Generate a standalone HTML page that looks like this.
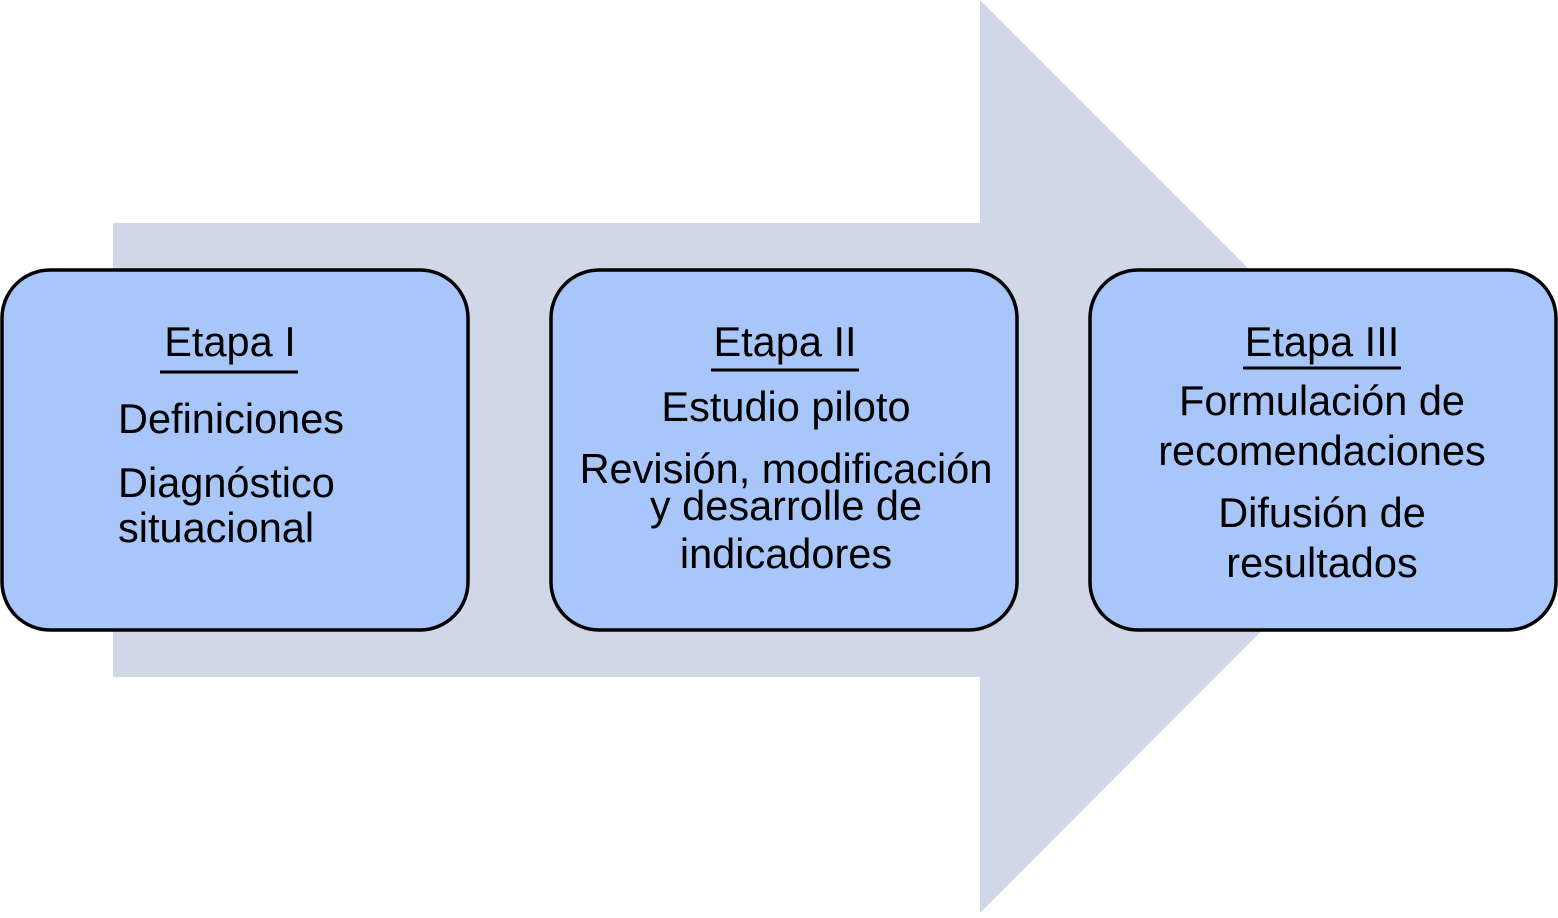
<!DOCTYPE html>
<html><head><meta charset="utf-8"><style>html,body{margin:0;padding:0;background:#fff}</style></head>
<body>
<svg width="1558" height="913" viewBox="0 0 1558 913" xmlns="http://www.w3.org/2000/svg" font-family="Liberation Sans, sans-serif" font-size="41.5" fill="#000">
<polygon points="113,223 980,223 980,0 1436,456 980,913 980,677 113,677" fill="#d0d8e8"/>
<g fill="#a8c6f9" stroke="#000" stroke-width="3.5">
<rect x="2" y="270" width="466" height="360" rx="48"/>
<rect x="551" y="270" width="466" height="360" rx="48"/>
<rect x="1090" y="270" width="466" height="360" rx="48"/>
</g>
<g stroke="#000" stroke-width="3">
<line x1="160" y1="372" x2="298" y2="372"/>
<line x1="711" y1="370" x2="859" y2="370"/>
<line x1="1243" y1="368" x2="1401" y2="368"/>
</g>
<g text-anchor="middle">
<text x="230" y="356">Etapa I</text>
<text x="785" y="356">Etapa II</text>
<text x="1322" y="356">Etapa III</text>
<text x="786" y="421">Estudio piloto</text>
<text x="786" y="483">Revisión, modificación</text>
<text x="786" y="520">y desarrolle de</text>
<text x="786" y="568">indicadores</text>
<text x="1322" y="415">Formulación de</text>
<text x="1322" y="465">recomendaciones</text>
<text x="1322" y="527">Difusión de</text>
<text x="1322" y="577">resultados</text>
</g>
<text x="118" y="433">Definiciones</text>
<text x="118" y="497">Diagnóstico</text>
<text x="118" y="542">situacional</text>
</svg>
</body></html>
